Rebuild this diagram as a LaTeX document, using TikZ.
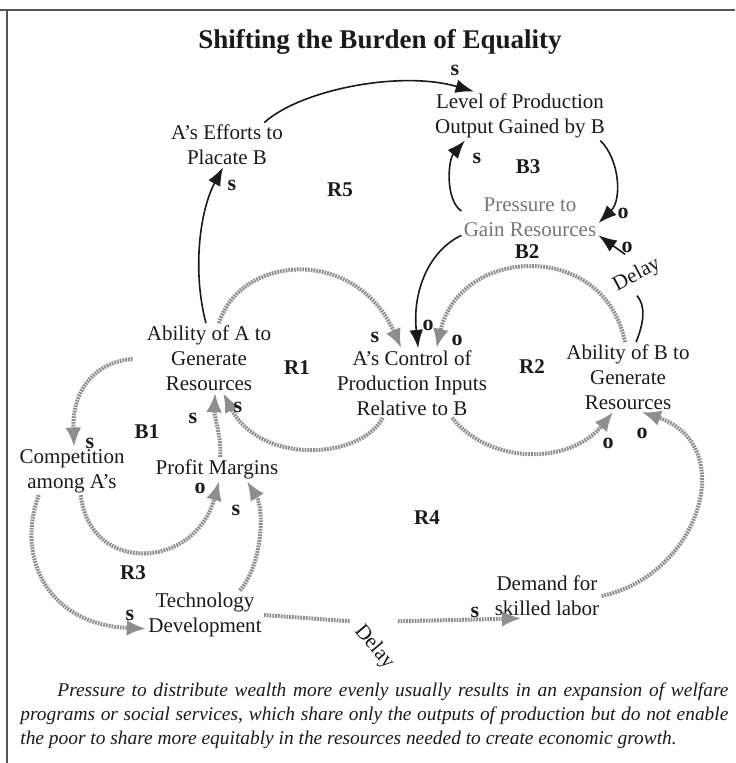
\documentclass[tikz,border=0pt]{standalone}
\usepackage{fontspec}
\setmainfont{Liberation Serif}
\usetikzlibrary{arrows.meta}
\definecolor{ink}{HTML}{1A1A1A}
\definecolor{hatch}{HTML}{8E8E8E}
\definecolor{faded}{HTML}{767676}
\definecolor{frameink}{HTML}{555555}
\tikzset{
    >={Latex[length=3.2mm,width=2.4mm]},
    factor/.style={align=center, inner sep=1pt, text=ink,
                   font=\fontsize{10.5}{12.5}\selectfont},
    faded factor/.style={factor, text=faded},
    delay tag/.style={inner sep=0pt, text=ink,
                      font=\fontsize{10.5}{12.5}\selectfont},
    causal/.style={ink, line width=0.8pt, ->},
    plain link/.style={ink, line width=0.8pt},
    hatched plain/.style={hatch, line width=2pt,
                          dash pattern=on 0.9pt off 0.5pt},
    hatched/.style={hatched plain, -{Latex[length=3.4mm,width=2.8mm]}},
    polarity/.style={font=\bfseries\fontsize{11}{12}\selectfont,
                     inner sep=0pt, text=ink},
    loop tag/.style={font=\bfseries\fontsize{10.5}{12}\selectfont,
                     inner sep=0pt, text=ink},
    heading/.style={font=\bfseries\fontsize{13.5}{16}\selectfont, text=ink},
    note text/.style={align=left, inner sep=0pt, text=ink,
                      font=\itshape\fontsize{9.7}{12}\selectfont},
}

\begin{document}
\begin{tikzpicture}[x=0.5pt, y=-0.5pt]
\useasboundingbox (0,0) rectangle (735,763);

% Page frame, title and caption.
\draw[frameink, line width=0.6pt] (0,10) -- (735,10);
\draw[frameink, line width=0.6pt] (7,10) -- (7,763);
\node[heading] (title) at (380,42) {Shifting the Burden of Equality};
\node[note text, anchor=north west] (note) at (20,682)
    {\hspace*{18.5pt}\makebox[335.5pt][s]{Pressure to distribute wealth more evenly usually results in an expansion of welfare}\\
     \makebox[354pt][s]{programs or social services, which share only the outputs of production but do not enable}\\
     the poor to share more equitably in the resources needed to create economic growth.};

% Variables of the causal loop diagram.
\node[factor] (Eff) at (227,145) {A's Efforts to\\Placate B};
\node[factor] (Lev) at (520,116) {Level of Production\\Output Gained by B};
\node[faded factor] (Pres) at (530,217) {Pressure to\\Gain Resources};
\node[factor] (AbA) at (209,358) {Ability of A to\\Generate\\Resources};
\node[factor] (Ctl) at (412,383) {A's Control of\\Production Inputs\\Relative to B};
\node[factor] (AbB) at (628,377) {Ability of B to\\Generate\\Resources};
\node[factor] (Comp) at (72,471) {Competition\\among A's};
\node[factor] (Prof) at (217,469) {Profit Margins};
\node[factor] (Tech) at (205,615) {Technology\\Development};
\node[factor] (Dem) at (547,596) {Demand for\\skilled labor};
\node[delay tag] (DelayB) at (637,275) {\rotatebox{28}{Delay}};
\node[delay tag] (DelayT) at (374,647) {\rotatebox{-50}{Delay}};

% Solid links: the symptomatic fix loops.
\draw[causal] (Eff.31) .. controls (300,90) and (400,70) .. (Lev.152);
\draw[causal] (AbA.95) .. controls (192,270) and (200,210) .. (Eff.260);
\draw[causal] (Pres.175) .. controls (445,200) and (448,160) .. (Lev.204);
\draw[causal] (Lev.-17) .. controls (620,160) and (622,200) .. (Pres.-5);
\draw[causal] (Pres.195) .. controls (430,250) and (412,290) .. (Ctl.80);
\draw[plain link] (AbB.77) .. controls (645,320) and (645,305) .. (DelayB.south);
\draw[causal] (DelayB.120) -- (Pres.-15);

% Hatched links: resources and production.
\draw[hatched] (AbA.74) .. controls (240,255) and (355,245) .. (Ctl.107);
\draw[hatched] (Ctl.230) .. controls (360,460) and (260,465) .. (AbA.-68);
\draw[hatched] (Ctl.-41) .. controls (490,465) and (570,465) .. (AbB.247);
\draw[hatched] (AbB.95) .. controls (605,240) and (460,245) .. (Ctl.55);
\draw[hatched, shorten <=6pt] (AbA.west) .. controls (95,362) and (72,390) .. (Comp.85);
\draw[hatched] (Comp.-70) .. controls (90,575) and (195,570) .. (Prof.-80);
\draw[hatched] (Prof.75) .. controls (222,440) and (214,415) .. (AbA.-80);
\draw[hatched] (Tech.35) .. controls (262,565) and (265,510) .. (Prof.-22);
\draw[hatched] (Comp.-144) .. controls (15,560) and (50,625) .. (Tech.193);
\draw[hatched plain] (Tech.east) -- (DelayT.north west);
\draw[hatched] (DelayT.north east) -- (Dem.-139);
\draw[hatched] (Dem.east) .. controls (700,575) and (740,445) .. (AbB.-69);

% Loop names.
\foreach \x/\y/\t in {340/190/R5, 528/167/B3, 527/252/B2, 297/368/R1,
                      532/367/R2, 147/432/B1, 133/573/R3, 427/518/R4}
    \node[loop tag] (loop\t) at (\x,\y) {\t};

% Link polarities.
\foreach \x/\y/\p [count=\i] in {455/70/s, 232/185/s, 477/158/s, 623/213/o,
        627/247/o, 375/337/s, 428/325/o, 457/340/o, 238/407/s, 193/418/s,
        90/443/s, 200/488/o, 236/510/s, 608/443/o, 642/433/o, 130/615/s,
        475/612/s}
    \node[polarity] (pol\i) at (\x,\y) {\p};

\end{tikzpicture}
\end{document}
